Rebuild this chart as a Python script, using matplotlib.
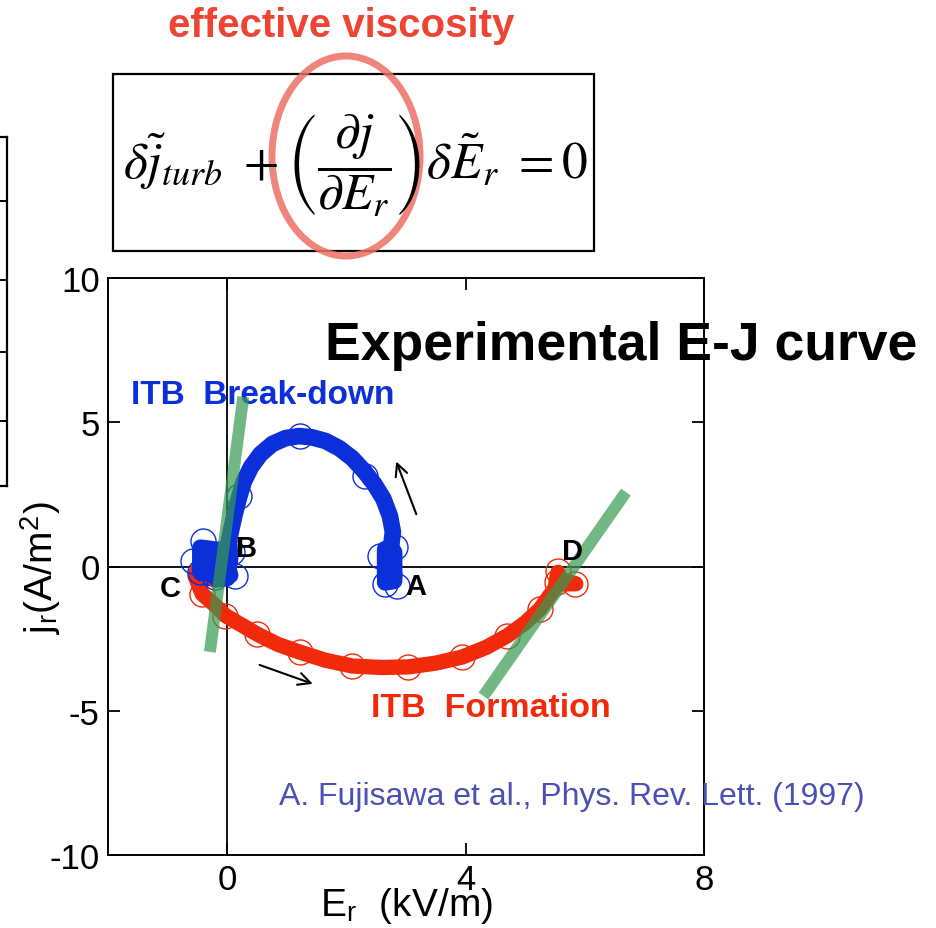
import matplotlib
matplotlib.use("Agg")
import matplotlib.pyplot as plt
from matplotlib.patches import Rectangle, Ellipse

plt.rcParams['font.family'] = ['Liberation Sans', 'DejaVu Sans']
plt.rcParams['mathtext.fontset'] = 'stix'
plt.rcParams['axes.unicode_minus'] = False

W, H = 937, 929

# ITB break-down branch (A -> B), E_r in kV/m, j_r in A/m^2
Er_break = [2.65, 2.8, 2.8, 2.65, 2.65, 2.8, 2.75, 2.78, 2.73, 2.62, 2.47, 2.3,
            2.1, 1.88, 1.65, 1.42, 1.2, 0.98, 0.76, 0.56, 0.4, 0.28, 0.2, 0.13,
            0.07, 0.03, 0.05, 0.0, -0.2, -0.25, -0.45, -0.45, -0.3, -0.3, -0.1, 0.05]
j_break = [-0.55, -0.5, 0.5, 0.6, -0.4, -0.3, 0.7, 1.2, 1.75, 2.35, 2.85, 3.3,
           3.75, 4.1, 4.35, 4.48, 4.52, 4.45, 4.25, 3.9, 3.45, 2.95, 2.4, 1.85,
           1.3, 0.9, 0.3, -0.4, -0.45, 0.6, 0.65, -0.2, -0.4, 0.5, 0.6, -0.3]
Er_break_pts = [2.57, 2.82, 2.65, 2.85, 2.32, 1.22, 0.2, -0.4, -0.57, -0.32,
                0.13, 0.08, -0.2, -0.45]
j_break_pts = [0.36, 0.68, -0.61, -0.68, 3.14, 4.52, 2.44, 0.88, 0.19, 0.26,
               -0.33, 0.5, -0.36, -0.2]

# ITB formation branch (C -> D)
Er_form = [-0.5, -0.54, -0.42, -0.2, -0.03, 0.5, 0.85, 1.22, 1.65, 2.1, 2.6,
           3.04, 3.5, 3.94, 4.35, 4.7, 5.0, 5.25, 5.5, 5.55, 5.6, 5.85, 5.6]
j_form = [-0.1, -0.33, -0.95, -1.35, -1.7, -2.34, -2.7, -2.97, -3.25, -3.45,
          -3.5, -3.48, -3.35, -3.14, -2.8, -2.4, -1.95, -1.47, -0.75, -0.2,
          -0.6, -0.6, -0.45]
Er_form_pts = [-0.42, -0.03, 0.5, 1.22, 2.1, 3.04, 3.94, 4.7, 5.25, 5.55, 5.84, 5.54]
j_form_pts = [-0.95, -1.7, -2.34, -2.97, -3.45, -3.48, -3.14, -2.4, -1.47, -0.16,
              -0.6, -0.55]

# slopes (effective viscosity) at B and D
slope_E = [[0.27, -0.29], [6.69, 4.3]]
slope_j = [[5.88, -2.96], [2.58, -4.49]]

blue = '#0b2fd8'
red = '#f02a0a'
green = '#369b50'

fig = plt.figure(figsize=(W / 100, H / 100), dpi=100)
ax = fig.add_axes([108 / W, 1 - 856 / H, 596 / W, 577 / H])

ax.axhline(0, color='black', lw=1.3, zorder=1)
ax.axvline(0, color='black', lw=1.3, zorder=1)

ax.plot(Er_form, j_form, color=red, lw=11, solid_capstyle='round',
        solid_joinstyle='round', zorder=2)
ax.plot(Er_form_pts, j_form_pts, 'o', ms=18, mfc='none', mec=red, mew=1.0, zorder=3)
ax.plot(Er_break, j_break, color=blue, lw=12, solid_capstyle='round',
        solid_joinstyle='round', zorder=2)
ax.plot(Er_break_pts, j_break_pts, 'o', ms=18, mfc='none', mec=blue, mew=1.0, zorder=3)

for xs, ys in zip(slope_E, slope_j):
    ax.plot(xs, ys, color=green, lw=8.6, alpha=0.7, solid_capstyle='butt', zorder=4)

ax.annotate('', xy=(2.82, 3.73), xytext=(3.19, 1.72),
            arrowprops=dict(arrowstyle='->', color='black', lw=1.5, mutation_scale=22))
ax.annotate('', xy=(1.48, -4.1), xytext=(0.5, -3.38),
            arrowprops=dict(arrowstyle='->', color='black', lw=1.5, mutation_scale=22))

for lbl, x, y in [('A', 3.17, -0.95), ('B', 0.32, 0.36), ('C', -0.96, -1.02), ('D', 5.79, 0.26)]:
    ax.text(x, y, lbl, fontsize=21, fontweight='bold', ha='center', va='baseline', zorder=5)

ax.text(0.59, 5.67, 'ITB  Break-down', color=blue, fontsize=24, fontweight='bold',
        ha='center', va='baseline')
ax.text(4.43, -5.18, 'ITB  Formation', color=red, fontsize=24.5, fontweight='bold',
        ha='center', va='baseline')
ax.text(6.61, 7.19, 'Experimental E-J curve', fontsize=38.5, fontweight='bold',
        ha='center', va='baseline', zorder=6)
ax.text(5.79, -8.23, 'A. Fujisawa et al., Phys. Rev. Lett. (1997)', color='#4a50b4',
        fontsize=23, ha='center', va='baseline', zorder=6)

ax.set_xlim(-2, 8)
ax.set_ylim(-10, 10)
ax.set_xticks([0, 4, 8])
ax.set_yticks([-10, -5, 0, 5, 10])
ax.tick_params(direction='in', length=8.5, width=1.3, labelsize=25, pad=6,
               top=True, right=True)
for s in ax.spines.values():
    s.set_linewidth(1.4)
ax.set_xlabel(r'E$_\mathregular{r}$  (kV/m)', fontsize=28, labelpad=-8)
ax.set_ylabel(r'j$_\mathregular{r}$(A/m$^\mathregular{2}$)', fontsize=28)
ax.yaxis.set_label_coords(-0.075, 0.5)

# edge of the neighbouring panel
side = fig.add_axes([-0.05, 1 - 487 / H, 0.05 + 7 / W, 349 / H])
side.set_xlim(0, 1)
side.set_ylim(0, 1)
side.set_xticks([])
side.set_yticks([0.186, 0.384, 0.59, 0.817])
side.yaxis.tick_right()
side.tick_params(direction='in', length=6, width=1.4, labelright=False)
for s in side.spines.values():
    s.set_linewidth(1.6)

# equation box with the highlighted derivative
over = fig.add_axes([0, 0, 1, 1], facecolor='none')
over.set_xlim(0, W)
over.set_ylim(H, 0)
over.axis('off')
over.add_patch(Rectangle((113, 75), 481, 177, fill=False, ec='black', lw=1.6))
over.text(355, 178, r'$\delta\tilde{j}_{turb}\ +\left(\dfrac{\partial j}{\partial E_r}\right)\delta\tilde{E}_r\ =0$',
          fontsize=37, ha='center', va='baseline')
over.add_patch(Ellipse((346, 157), 148, 200, fill=False, ec='#ee7064', lw=5, alpha=0.85))
over.text(341, 37, 'effective viscosity', color='#ee4433', fontsize=29,
          fontweight='bold', ha='center', va='baseline')

fig.savefig('out.png', dpi=100)
